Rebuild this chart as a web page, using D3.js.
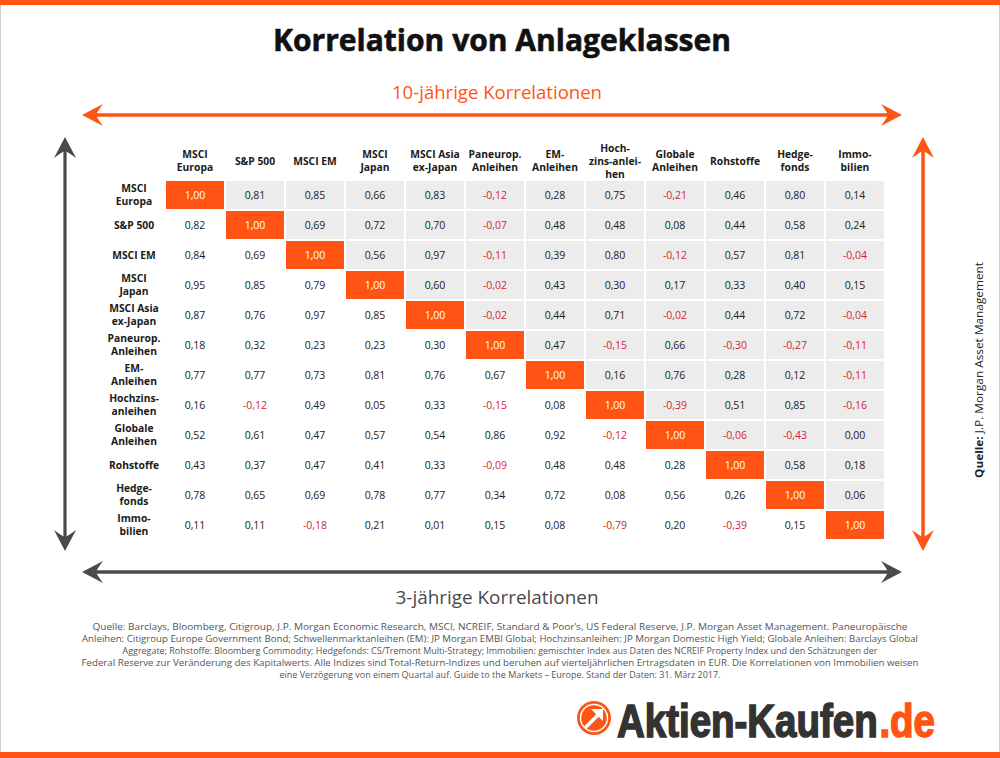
<!DOCTYPE html>
<html><head><meta charset="utf-8">
<script src="https://cdn.jsdelivr.net/npm/d3@7"></script>
<style>body{margin:0;background:#fff}svg{display:block}</style>
</head><body>
<svg id="chart" width="1000" height="758"></svg>
<script>
const colHeaders = ["MSCI\nEuropa","S&P 500","MSCI EM","MSCI\nJapan","MSCI Asia\nex-Japan","Paneurop.\nAnleihen","EM-\nAnleihen","Hoch-\nzins-anlei-\nhen","Globale\nAnleihen","Rohstoffe","Hedge-\nfonds","Immo-\nbilien"];
const rowHeaders = ["MSCI\nEuropa","S&P 500","MSCI EM","MSCI\nJapan","MSCI Asia\nex-Japan","Paneurop.\nAnleihen","EM-\nAnleihen","Hochzins-\nanleihen","Globale\nAnleihen","Rohstoffe","Hedge-\nfonds","Immo-\nbilien"];
const rowMsciEuropa  = [1.00,0.81,0.85,0.66,0.83,-0.12,0.28,0.75,-0.21,0.46,0.80,0.14];
const rowSP500       = [0.82,1.00,0.69,0.72,0.70,-0.07,0.48,0.48,0.08,0.44,0.58,0.24];
const rowMsciEM      = [0.84,0.69,1.00,0.56,0.97,-0.11,0.39,0.80,-0.12,0.57,0.81,-0.04];
const rowMsciJapan   = [0.95,0.85,0.79,1.00,0.60,-0.02,0.43,0.30,0.17,0.33,0.40,0.15];
const rowMsciAsia    = [0.87,0.76,0.97,0.85,1.00,-0.02,0.44,0.71,-0.02,0.44,0.72,-0.04];
const rowPaneurop    = [0.18,0.32,0.23,0.23,0.30,1.00,0.47,-0.15,0.66,-0.30,-0.27,-0.11];
const rowEMAnleihen  = [0.77,0.77,0.73,0.81,0.76,0.67,1.00,0.16,0.76,0.28,0.12,-0.11];
const rowHochzins    = [0.16,-0.12,0.49,0.05,0.33,-0.15,0.08,1.00,-0.39,0.51,0.85,-0.16];
const rowGlobale     = [0.52,0.61,0.47,0.57,0.54,0.86,0.92,-0.12,1.00,-0.06,-0.43,0.00];
const rowRohstoffe   = [0.43,0.37,0.47,0.41,0.33,-0.09,0.48,0.48,0.28,1.00,0.58,0.18];
const rowHedgefonds  = [0.78,0.65,0.69,0.78,0.77,0.34,0.72,0.08,0.56,0.26,1.00,0.06];
const rowImmobilien  = [0.11,0.11,-0.18,0.21,0.01,0.15,0.08,-0.79,0.20,-0.39,0.15,1.00];
const matrix = [rowMsciEuropa,rowSP500,rowMsciEM,rowMsciJapan,rowMsciAsia,rowPaneurop,rowEMAnleihen,rowHochzins,rowGlobale,rowRohstoffe,rowHedgefonds,rowImmobilien];

const footerLines = [
 "Quelle: Barclays, Bloomberg, Citigroup, J.P. Morgan Economic Research, MSCI, NCREIF, Standard & Poor’s, US Federal Reserve, J.P. Morgan Asset Management. Paneuropäische",
 "Anleihen: Citigroup Europe Government Bond; Schwellenmarktanleihen (EM): JP Morgan EMBI Global; Hochzinsanleihen: JP Morgan Domestic High Yield; Globale Anleihen: Barclays Global",
 "Aggregate; Rohstoffe: Bloomberg Commodity; Hedgefonds: CS/Tremont Multi-Strategy; Immobilien: gemischter Index aus Daten des NCREIF Property Index und den Schätzungen der",
 "Federal Reserve zur Veränderung des Kapitalwerts. Alle Indizes sind Total-Return-Indizes und beruhen auf vierteljährlichen Ertragsdaten in EUR. Die Korrelationen von Immobilien weisen",
 "eine Verzögerung von einem Quartal auf. Guide to the Markets – Europe. Stand der Daten: 31. März 2017."
];
const footerWidths = [815, 836, 755, 837, 441];

const ORANGE = "#ff5414", DARK = "#4a4a4a", RED = "#d7262c", GRAY = "#ececec";
const FONT = "'Open Sans', 'Noto Sans', sans-serif";
const svg = d3.select("#chart").style("font-family", FONT);

// frame
svg.append("rect").attr("x",0.5).attr("y",0).attr("width",999).attr("height",758).attr("fill","#fff").attr("stroke","#cfcfcf");
svg.append("rect").attr("x",0).attr("y",0).attr("width",1000).attr("height",5).attr("fill",ORANGE);
svg.append("rect").attr("x",0).attr("y",752).attr("width",1000).attr("height",6).attr("fill",ORANGE);

// title
svg.append("text").attr("x",502).attr("y",51).attr("text-anchor","middle")
  .attr("font-size",31).attr("font-weight",700).attr("fill","#111")
  .attr("stroke","#111").attr("stroke-width",0.6)
  .attr("textLength",458).attr("lengthAdjust","spacingAndGlyphs")
  .text("Korrelation von Anlageklassen");

svg.append("text").attr("x",497).attr("y",99).attr("text-anchor","middle")
  .attr("font-size",17.5).attr("fill",ORANGE)
  .attr("textLength",210).attr("lengthAdjust","spacingAndGlyphs")
  .text("10-jährige Korrelationen");
svg.append("text").attr("x",497).attr("y",604).attr("text-anchor","middle")
  .attr("font-size",17.5).attr("fill",DARK)
  .attr("textLength",203).attr("lengthAdjust","spacingAndGlyphs")
  .text("3-jährige Korrelationen");

// arrows
function arrowHead(g, x, y, angle, color){
  g.append("path").attr("d","M0,0 L-21,-11 Q-15,-3 -14,0 Q-15,3 -21,11 Z")
    .attr("fill",color).attr("transform",`translate(${x},${y}) rotate(${angle})`);
}
const ag = svg.append("g");
function hArrow(y, x0, x1, color, w){
  ag.append("line").attr("x1",x0+10).attr("x2",x1-10).attr("y1",y).attr("y2",y).attr("stroke",color).attr("stroke-width",w);
  arrowHead(ag,x0,y,180,color); arrowHead(ag,x1,y,0,color);
}
function vArrow(x, y0, y1, color, w){
  ag.append("line").attr("x1",x).attr("x2",x).attr("y1",y0+10).attr("y2",y1-10).attr("stroke",color).attr("stroke-width",w);
  arrowHead(ag,x,y0,-90,color); arrowHead(ag,x,y1,90,color);
}
hArrow(115, 82, 902, ORANGE, 3.5);
vArrow(65, 137, 551, DARK, 3.2);
vArrow(923, 137, 551, ORANGE, 3.5);
hArrow(572, 82, 902, DARK, 3.5);

// scales
const idx = d3.range(colHeaders.length);
const x = d3.scaleBand().domain(idx).range([165,885]).paddingInner(2/60).paddingOuter(1/60);
const y = d3.scaleBand().domain(idx).range([180,540]).paddingInner(2/30).paddingOuter(1/30);

// cells
const cells = [];
matrix.forEach((row,i)=>row.forEach((v,j)=>cells.push({i,j,v})));
const cg = svg.append("g");
cg.selectAll("rect").data(cells).join("rect")
  .attr("x",d=>x(d.j)).attr("y",d=>y(d.i))
  .attr("width",x.bandwidth()).attr("height",y.bandwidth())
  .attr("fill",d=>d.i===d.j?ORANGE:(d.j>d.i?GRAY:"#fff"));
const fmt = v => v.toFixed(2).replace(".",",");
cg.selectAll("text").data(cells).join("text")
  .attr("x",d=>x(d.j)+x.bandwidth()/2).attr("y",d=>y(d.i)+y.bandwidth()/2)
  .attr("dy","0.35em").attr("text-anchor","middle").attr("font-size",10.5)
  .attr("fill",d=>d.i===d.j?"#fff":(d.v<0?RED:"#222"))
  .text(d=>fmt(d.v));

// headers
function multiText(g, cx, cy, str, lh){
  const lines = str.split("\n");
  const t = g.append("text").attr("x",cx).attr("text-anchor","middle")
    .attr("font-size",10.3).attr("font-weight",700).attr("fill","#1a1a1a");
  lines.forEach((l,k)=>{
    t.append("tspan").attr("x",cx).attr("y",cy + (k-(lines.length-1)/2)*lh).attr("dy","0.35em").text(l);
  });
}
const hg = svg.append("g");
colHeaders.forEach((h,j)=>multiText(hg, x(j)+x.bandwidth()/2, 161, h, 13));
rowHeaders.forEach((h,i)=>multiText(hg, 134, y(i)+y.bandwidth()/2, h, 12.5));

// vertical source
const vt = svg.append("text").attr("transform","translate(983,370) rotate(-90)")
  .attr("text-anchor","middle").attr("font-size",11).attr("fill","#222")
  .attr("textLength",216).attr("lengthAdjust","spacingAndGlyphs");
vt.append("tspan").attr("font-weight",700).text("Quelle:");
vt.append("tspan").text(" J.P. Morgan Asset Management");

// footer
footerLines.forEach((l,k)=>{
  svg.append("text").attr("x",500).attr("y",630+k*12).attr("text-anchor","middle")
    .attr("font-size",9.5).attr("fill","#555")
    .attr("textLength",footerWidths[k]).attr("lengthAdjust","spacingAndGlyphs")
    .text(l);
});

// logo
const lg = svg.append("g");
lg.append("circle").attr("cx",594).attr("cy",718).attr("r",17).attr("fill",ORANGE);
lg.append("circle").attr("cx",594).attr("cy",718).attr("r",13.5).attr("fill","none").attr("stroke","#fff").attr("stroke-width",1.5);
lg.append("path").attr("d","M586,727 L599,714").attr("stroke","#fff").attr("stroke-width",3.5).attr("stroke-linecap","round");
lg.append("path").attr("d","M591,709 L603,709 L603,721 Z").attr("fill","#fff");
const LOGOFONT = "'Liberation Sans Narrow','Liberation Sans',Arial,sans-serif";
const wm = lg.append("g");
const t1 = wm.append("text").attr("x",0).attr("y",0).attr("font-size",46).attr("font-weight",700)
  .attr("font-family",LOGOFONT).attr("fill","#333").attr("stroke","#333").attr("stroke-width",1.6)
  .text("Aktien-Kaufen");
const L1 = t1.node().getComputedTextLength();
const t2 = wm.append("text").attr("x",L1+2).attr("y",0).attr("font-size",46).attr("font-weight",700)
  .attr("font-family",LOGOFONT).attr("fill",ORANGE).attr("stroke",ORANGE).attr("stroke-width",1.6)
  .text(".de");
const L2 = t2.node().getComputedTextLength();
const sx = 318/(L1+2+L2);
wm.attr("transform",`translate(617,737) scale(${sx},1)`);
</script>
</body></html>
